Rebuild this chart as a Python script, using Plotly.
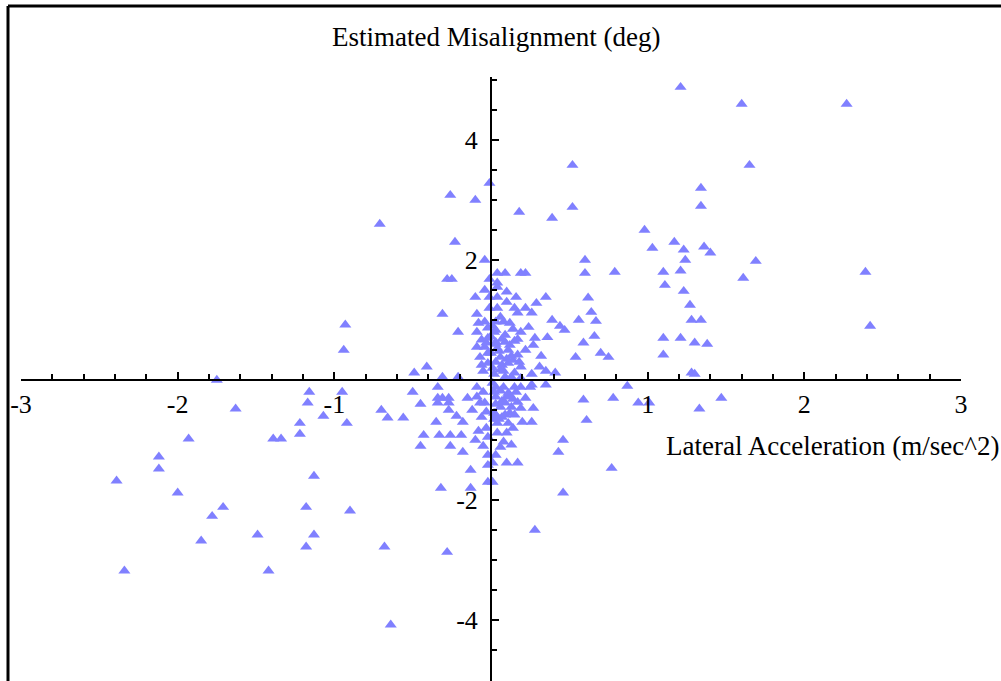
import plotly.graph_objects as go

# ---- data ----
lat_acc = [
    # upper right, outer
    1.21, 1.60, 2.27, 1.65, 0.52, 1.34, 1.34, 0.52, 0.39, 0.18, -0.01, 0.98, 1.03, 1.17, 1.23, 1.36,
    1.40, 1.24, 1.69, 0.60, 1.10, 1.21, 2.39, 1.61, 0.60, 0.79, 1.11, 1.23, 1.27, 1.34, 1.28, 2.42,
    1.10, 1.21, 1.30, 1.38, 1.10, 1.28, 0.62, 0.64, 0.67, 0.56, 0.39, 0.47, 0.66, 0.59, 0.54, 0.70,
    0.75, 0.35, 0.29, 0.28, 0.36, 0.32, 0.41, 0.35, 1.30,
    # upper right, core
    0.04, 0.09, 0.19, 0.22, 0.04, 0.04, 0.10, 0.04, 0.16, 0.10, 0.04, 0.15, 0.22, 0.17, 0.26, 0.03,
    0.08, 0.44, 0.24, 0.19, 0.03, 0.09, 0.03, 0.09, 0.27, 0.04, 0.11, 0.22, 0.17, 0.06, 0.03, 0.11,
    0.19, 0.31, 0.06, 0.15, 0.26,
    0.01, 0.06, 0.12, 0.14, 0.00, 0.15, 0.00, 0.13, 0.18, 0.02, 0.09, 0.19,
    0.02, 0.07, 0.12, 0.05, 0.10, 0.14, 0.01, 0.08, 0.13, 0.03, 0.17, 0.07,
    # upper left
    -0.04, -0.28, -0.25, -0.01, -0.10, -0.01, -0.31, -0.09, -0.01, -0.04, -0.21, -0.09, -0.02, -0.06,
    -0.02, -0.09, -0.04, -0.07, -0.02, -0.06, -0.02, -0.41, -0.49, -0.31, -0.21,
    -0.71, -0.23, -0.26, -0.10, -0.93, -0.94, -1.75,
    -0.05, -0.03, -0.08, -0.04,
    # lower left, outer
    -2.39, -2.34, -2.12, -2.12, -2.00, -1.93, -1.78, -1.71, -1.85, -1.63, -1.49, -1.42, -1.39, -1.34,
    -1.22, -1.22, -1.18, -1.18, -1.16, -1.17, -1.13, -1.13, -1.07, -0.95, -0.92, -0.90, -0.70, -0.66,
    -0.68, -0.64, -0.56, -0.32, -0.28,
    # lower left, core
    -0.50, -0.45, -0.34, -0.34, -0.31, -0.27, -0.34, -0.27, -0.27, -0.22, -0.15, -0.09, -0.09, -0.07,
    -0.04, -0.06, -0.03, -0.35, -0.18, -0.43, -0.33, -0.26, -0.19, -0.45, -0.26, -0.10, -0.05, -0.18,
    -0.02, -0.02, -0.13, -0.02, -0.02, -0.13,
    -0.05, -0.12, -0.03, -0.08,
    # lower right, core
    0.26, 0.35, 0.03, 0.08, 0.15, 0.19, 0.25, 0.03, 0.10, 0.22, 0.17, 0.06, 0.13, 0.19, 0.27, 0.03,
    0.09, 0.15, 0.20, 0.26, 0.04, 0.11, 0.04, 0.10, 0.46, 0.08, 0.13, 0.06, 0.43, 0.03, 0.10, 0.17,
    0.01, 0.01, 0.46,
    0.02, 0.07, 0.12, 0.02, 0.14, 0.05,
    0.01, 0.06, 0.11, 0.16, 0.03, 0.09, 0.14, 0.02, 0.07, 0.12,
    # lower right, outer
    0.28, 0.77, 0.61, 0.59, 0.78, 0.87, 0.94, 1.01, 1.33, 1.47,
]

misalign = [
    # upper right, outer
    4.88, 4.60, 4.60, 3.58, 3.58, 3.20, 2.90, 2.88, 2.70, 2.80, 3.28, 2.50, 2.20, 2.30, 2.17, 2.22,
    2.12, 2.00, 1.98, 2.00, 1.80, 1.82, 1.80, 1.70, 1.78, 1.80, 1.58, 1.48, 1.25, 1.00, 1.00, 0.90,
    0.70, 0.70, 0.62, 0.60, 0.42, 0.12, 1.37, 1.13, 0.98, 1.00, 1.00, 0.83, 0.73, 0.62, 0.38, 0.45,
    0.38, 1.38, 1.28, 0.70, 0.71, 0.40, 0.12, 0.15, 0.10,
    # upper right, core
    1.78, 1.78, 1.78, 1.78, 1.62, 1.55, 1.47, 1.38, 1.38, 1.30, 1.20, 1.20, 1.20, 1.12, 1.12, 0.97,
    0.97, 0.90, 0.88, 0.80, 0.83, 0.75, 0.63, 0.63, 0.58, 0.53, 0.50, 0.50, 0.42, 0.38, 0.30, 0.28,
    0.22, 0.22, 0.17, 0.12, 0.10,
    0.90, 1.05, 0.95, 0.85, 0.72, 0.65, 0.45, 0.40, 0.30, 0.10, 0.05, 0.03,
    0.80, 0.68, 0.58, 0.48, 0.35, 0.33, 0.20, 0.15, 0.05, 0.60, 0.68, 0.25,
    # upper left
    2.00, 1.68, 1.68, 1.68, 1.38, 1.38, 1.10, 1.10, 1.20, 0.97, 0.80, 0.80, 0.87, 0.67,
    0.70, 0.55, 0.55, 0.38, 0.45, 0.25, 0.28, 0.22, 0.12, 0.05, 0.05,
    2.60, 2.30, 3.08, 3.00, 0.92, 0.50, 0.00,
    0.15, 0.62, 0.95, 1.50,
    # lower left, outer
    -1.68, -3.18, -1.28, -1.48, -1.88, -0.98, -2.27, -2.12, -2.68, -0.48, -2.58, -3.18, -0.98, -0.98,
    -0.72, -0.90, -2.12, -2.78, -0.20, -0.38, -1.60, -2.58, -0.60, -0.20, -0.72, -2.18, -0.50, -0.63,
    -2.78, -4.08, -0.63, -1.80, -2.87,
    # lower left, core
    -0.20, -0.40, -0.12, -0.30, -0.30, -0.30, -0.38, -0.38, -0.50, -0.60, -0.30, -0.12, -0.28, -0.38,
    -0.38, -0.62, -0.53, -0.70, -0.70, -0.92, -0.92, -0.92, -0.92, -1.10, -1.10, -1.00, -1.10, -1.20,
    -0.95, -1.25, -1.50, -1.42, -1.70, -1.80,
    -0.20, -0.50, -0.80, -0.85,
    # lower right, core
    -0.08, -0.08, -0.12, -0.12, -0.12, -0.12, -0.12, -0.28, -0.28, -0.30, -0.37, -0.45, -0.45, -0.47,
    -0.47, -0.58, -0.58, -0.58, -0.70, -0.70, -0.72, -0.72, -0.88, -0.88, -1.00, -1.03, -1.08, -1.12,
    -1.20, -1.25, -1.38, -1.38, -1.38, -1.70, -1.88,
    -0.20, -0.35, -0.25, -0.55, -0.80, -0.65,
    -0.05, -0.18, -0.22, -0.20, -0.40, -0.38, -0.32, -0.65, -0.62, -0.55,
    # lower right, outer
    -2.50, -1.47, -0.67, -0.33, -0.30, -0.10, -0.38, -0.38, -0.48, -0.30,
]

x_tick_vals = [-3, -2, -1, 1, 2, 3]
x_tick_text = ["-3", "-2", "-1", "1", "2", "3"]
y_tick_vals = [-4, -2, 2, 4]
y_tick_text = ["-4", "-2", "2", "4"]

x_title = "Lateral Acceleration (m/sec^2)"
y_title = "Estimated Misalignment (deg)"

# ---- layout geometry ----
W, H = 1001, 681
ML, MR, MT, MB = 21, 40, 77, 0
PW, PH = W - ML - MR, H - MT - MB
XR = [-3, 3]
YR = [-5.0167, 5.05]


def px_to_paper(px, py):
    return (px - ML) / PW, (H - MB - py) / PH


FONT = "Liberation Serif, Times New Roman, serif"

fig = go.Figure()
fig.add_trace(go.Scatter(
    x=lat_acc, y=misalign, mode="markers",
    marker=dict(symbol="triangle-up", size=10.5, color="rgb(128,128,255)", line=dict(width=0)),
    cliponaxis=False, showlegend=False, hoverinfo="x+y",
))

axis_common = dict(
    showgrid=False, zeroline=False, showline=True, linecolor="black", linewidth=2,
    ticks="inside", tickcolor="black", tickwidth=2, ticklen=7,
    tickmode="array", tickfont=dict(family=FONT, size=26, color="black"),
    anchor="free",
)

fig.update_layout(
    width=W, height=H, autosize=False,
    margin=dict(l=ML, r=MR, t=MT, b=MB, pad=0),
    paper_bgcolor="white", plot_bgcolor="white",
    xaxis=dict(range=XR, tickvals=x_tick_vals, ticktext=x_tick_text,
               position=(0 - YR[0]) / (YR[1] - YR[0]), ticklabelstandoff=1,
               minor=dict(dtick=0.2, tick0=0, ticks="inside", ticklen=5, tickwidth=1.5,
                          tickcolor="black", showgrid=False),
               **axis_common),
    yaxis=dict(range=YR, tickvals=y_tick_vals, ticktext=y_tick_text,
               position=(0 - XR[0]) / (XR[1] - XR[0]), ticklabelstandoff=7,
               minor=dict(dtick=0.5, tick0=0, ticks="inside", ticklen=5, tickwidth=1.5,
                          tickcolor="black", showgrid=False),
               **axis_common),
)

ax, ay = px_to_paper(833, 446)
tx, ty = px_to_paper(496, 37)
fig.add_annotation(x=ax, y=ay, xref="paper", yref="paper", text=x_title, showarrow=False,
                   xanchor="center", yanchor="middle", font=dict(family=FONT, size=27, color="black"))
fig.add_annotation(x=tx, y=ty, xref="paper", yref="paper", text=y_title, showarrow=False,
                   xanchor="center", yanchor="middle", font=dict(family=FONT, size=27, color="black"))

# frame (left and top edges visible in the reference)
lx, _ = px_to_paper(8, 0)
_, ybot = px_to_paper(0, H)
_, ytop = px_to_paper(0, 6)
rx, _ = px_to_paper(W + 2, 0)
fig.add_shape(type="line", xref="paper", yref="paper", x0=lx, x1=lx, y0=ybot - 0.01, y1=ytop,
              line=dict(color="black", width=3))
fig.add_shape(type="line", xref="paper", yref="paper", x0=lx, x1=rx, y0=ytop, y1=ytop,
              line=dict(color="black", width=3))

fig.write_html("out.html")
